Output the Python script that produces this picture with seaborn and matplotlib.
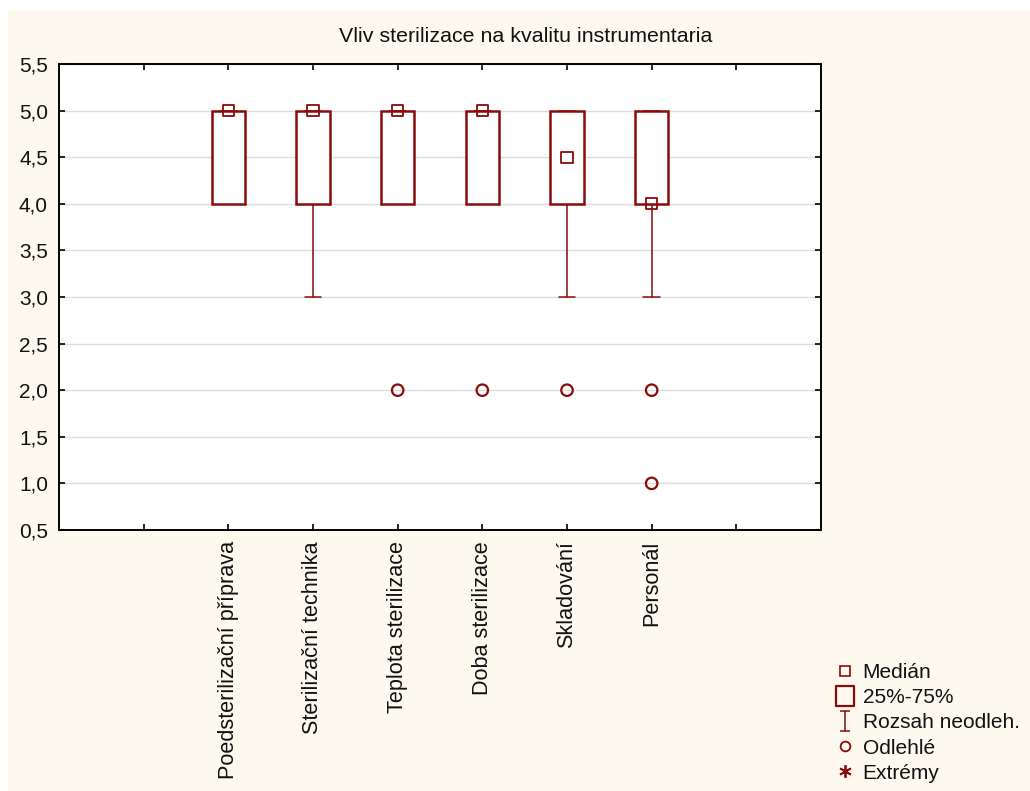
import numpy as np
import matplotlib
matplotlib.use("Agg")
import matplotlib.pyplot as plt
from matplotlib.lines import Line2D
from matplotlib.path import Path
from matplotlib.patches import Rectangle
import seaborn as sns

# Summary statistics per variable
categories = ["Poedsterilizační příprava", "Sterilizační technika", "Teplota sterilizace",
              "Doba sterilizace", "Skladování", "Personál"]
medians = [5.0, 5.0, 5.0, 5.0, 4.5, 4.0]
q1 = [4.0, 4.0, 4.0, 4.0, 4.0, 4.0]
q3 = [5.0, 5.0, 5.0, 5.0, 5.0, 5.0]
whisker_low = [4.0, 3.0, 4.0, 4.0, 3.0, 3.0]
whisker_high = [5.0, 5.0, 5.0, 5.0, 5.0, 5.0]
# Outliers: category index and value
outlier_cat = [2, 3, 4, 5, 5]
outlier_val = [2.0, 2.0, 2.0, 2.0, 1.0]

y_ticks = [0.5, 1.0, 1.5, 2.0, 2.5, 3.0, 3.5, 4.0, 4.5, 5.0, 5.5]
y_tick_labels = ["0,5", "1,0", "1,5", "2,0", "2,5", "3,0", "3,5", "4,0", "4,5", "5,0", "5,5"]

title = "Vliv sterilizace na kvalitu instrumentaria"
legend_labels = ["Medián", "25%-75%", "Rozsah neodleh.", "Odlehlé", "Extrémy"]

RED = "#8B0A0A"
CREAM = "#FEF9EE"
FS = 15

sns.set_theme(style="white")
plt.rcParams["font.family"] = ["Liberation Sans", "DejaVu Sans"]

W, H = 1030, 791
fig = plt.figure(figsize=(W / 100, H / 100), dpi=100)
fig.patch.set_facecolor("white")
fig.patches.append(Rectangle((8 / W, 0), 1 - 8 / W, 1 - 10 / H, transform=fig.transFigure,
                             facecolor=CREAM, edgecolor="none", zorder=-10))

left, right, top, bottom = 59, 821, 64, 530
ax = fig.add_axes([left / W, 1 - bottom / H, (right - left) / W, (bottom - top) / H])
ax.set_facecolor("white")

positions = np.arange(len(categories))
stats = []
for i in range(len(categories)):
    stats.append(dict(med=medians[i], q1=q1[i], q3=q3[i],
                      whislo=whisker_low[i], whishi=whisker_high[i], fliers=[]))

ax.bxp(stats, positions=positions, widths=0.39, capwidths=0.2, showfliers=False,
       patch_artist=True,
       boxprops=dict(facecolor="white", edgecolor=RED, linewidth=1.8, zorder=3),
       whiskerprops=dict(color=RED, linewidth=1.1, zorder=2),
       capprops=dict(color=RED, linewidth=1.1, zorder=2),
       medianprops=dict(linewidth=0))

# Median squares
sns.scatterplot(x=positions, y=medians, ax=ax, marker="s", s=66, facecolor="none",
                edgecolor=RED, linewidth=1.3, zorder=5, legend=False)
# Outlier circles
sns.scatterplot(x=outlier_cat, y=outlier_val, ax=ax, marker="o", s=68, facecolor="none",
                edgecolor=RED, linewidth=1.6, zorder=5, legend=False)

ax.set_xlim(-2, 7)
ax.set_ylim(0.5, 5.5)
ax.set_yticks(y_ticks)
ax.set_yticklabels(y_tick_labels, fontsize=FS, color="#111111")
ax.set_xticks(np.arange(-1, 7))
ax.set_xticklabels([""] + categories + [""], rotation=90, fontsize=15.6, color="#111111",
                   va="top", ha="center")
ax.grid(axis="y", color="#DCDCDC", linewidth=1.0, zorder=0)
ax.set_axisbelow(True)
ax.tick_params(axis="both", direction="in", length=4, width=1.2, color="black",
               top=True, right=True, left=True, bottom=True)
ax.tick_params(axis="y", pad=8)
ax.tick_params(axis="x", pad=8)
for sp in ax.spines.values():
    sp.set_visible(True)
    sp.set_color("black")
    sp.set_linewidth(1.4)

fig.text(526 / W, 1 - 37 / H, title, ha="center", va="center", fontsize=15.4, color="#111111")

# Legend symbols
whisker_path = Path([(-0.5, 1), (0.5, 1), (0, 1), (0, -1), (-0.5, -1), (0.5, -1)],
                    [Path.MOVETO, Path.LINETO, Path.MOVETO, Path.LINETO, Path.MOVETO, Path.LINETO])
box_path = Path([(-0.45, -0.55), (0.45, -0.55), (0.45, 0.55), (-0.45, 0.55), (-0.45, -0.55)],
                [Path.MOVETO, Path.LINETO, Path.LINETO, Path.LINETO, Path.CLOSEPOLY])
handles = [
    Line2D([], [], linestyle="none", marker="s", markersize=7, markerfacecolor="none",
           markeredgecolor=RED, markeredgewidth=1.2),
    Line2D([], [], linestyle="none", marker=box_path, markersize=15, markerfacecolor="none",
           markeredgecolor=RED, markeredgewidth=1.6),
    Line2D([], [], linestyle="none", marker=whisker_path, markersize=15, markerfacecolor="none",
           markeredgecolor=RED, markeredgewidth=1.1),
    Line2D([], [], linestyle="none", marker="o", markersize=7, markerfacecolor="none",
           markeredgecolor=RED, markeredgewidth=1.3),
    Line2D([], [], linestyle="none", marker=(6, 2, 0), markersize=9,
           markeredgecolor=RED, markeredgewidth=1.3),
]
fig.legend(handles, legend_labels, loc="upper left", bbox_to_anchor=(824 / W, 1 - 653 / H),
           bbox_transform=fig.transFigure, frameon=False, fontsize=FS,
           handlelength=1.0, handletextpad=0.35, labelspacing=0.29, borderpad=0,
           labelcolor="#111111")

fig.savefig("out.png", dpi=100, facecolor=fig.get_facecolor())
